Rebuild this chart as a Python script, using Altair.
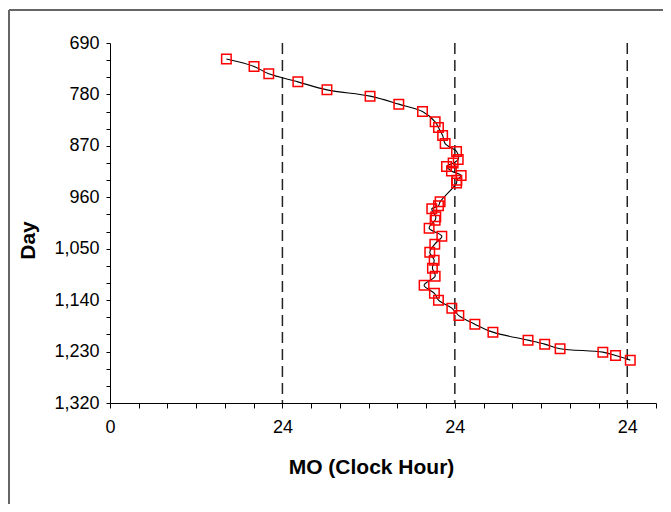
import altair as alt
import pandas as pd

# MO clock hour (unwrapped, hours) and study day
hours = [16.2, 20.05, 22.1, 26.15, 30.2, 36.2, 40.2, 43.5, 45.26, 45.72, 46.3, 46.65,
         48.24, 48.47, 47.76, 46.84, 47.53, 48.88, 48.28, 48.24,
         45.95, 45.72, 44.79, 45.35, 45.26, 44.42, 46.19, 45.21, 44.51, 45.12, 44.88,
         45.26, 43.72, 45.16, 45.72, 47.58, 48.56, 50.79, 53.3, 58.19, 60.51, 62.65,
         68.6, 70.37, 72.42]
days = [718, 731, 744, 758, 772, 783, 797, 810, 828, 838, 852, 866,
        880, 894, 900, 906, 914, 922, 930, 935,
        968, 975, 980, 994, 1000, 1014, 1028, 1042, 1056, 1070, 1084,
        1098, 1114, 1128, 1140, 1154, 1167, 1182, 1196, 1210, 1217, 1225,
        1231, 1237, 1245]
ref_hours = [24, 48, 72]
x_ticks = list(range(0, 77, 4))
y_ticks = list(range(690, 1321, 30))

df = pd.DataFrame({"hour": hours, "day": days})
ref = pd.DataFrame({"hour": ref_hours})
one = pd.DataFrame({"a": [0]})

LABEL_FONT = "Liberation Sans, Arial"
TITLE_FONT = "Liberation Sans, Arial"

xscale = alt.Scale(domain=[0, 76], nice=False, zero=False)
yscale = alt.Scale(domain=[690, 1320], nice=False, zero=False, reverse=True)

xaxis = alt.Axis(
    values=x_ticks, tickCount=200,
    labelExpr="datum.value == 0 ? '0' : (datum.value % 24 == 0 ? '24' : '')",
    labelOverlap=False, labelFlush=False,
    grid=False, domainColor="black", tickColor="black", tickSize=5,
    labelFont=LABEL_FONT, labelFontSize=18, labelColor="black", labelPadding=10,
    title="MO (Clock Hour)", titleFont=TITLE_FONT, titleFontSize=21,
    titleFontWeight="bold", titleColor="black",
    titleX=261, titleY=70, titleBaseline="alphabetic",
)
yaxis = alt.Axis(
    values=y_ticks, tickCount=200,
    labelExpr="(datum.value - 690) % 90 == 0 ? format(datum.value, ',d') : ''",
    labelOverlap=False, labelFlush=False,
    grid=False, domainColor="black", tickColor="black", tickSize=4,
    labelFont=LABEL_FONT, labelFontSize=18, labelColor="black", labelPadding=7,
    title="Day", titleFont=TITLE_FONT, titleFontSize=21,
    titleFontWeight="bold", titleColor="black",
    titleX=-82, titleY=197, titleBaseline="middle",
)

base = alt.Chart(df)

line = base.mark_line(color="black", strokeWidth=1.1, interpolate="catmull-rom").encode(
    x=alt.X("hour:Q", scale=xscale, axis=xaxis),
    y=alt.Y("day:Q", scale=yscale, axis=yaxis),
    order=alt.Order("day:Q"),
)
points = base.mark_point(shape="square", size=90, filled=False, color="#ff0000",
                         strokeWidth=1.5, opacity=1).encode(
    x=alt.X("hour:Q", scale=xscale),
    y=alt.Y("day:Q", scale=yscale),
)
refs = alt.Chart(ref).mark_rule(color="#222222", strokeWidth=1.5, strokeDash=[11, 6]).encode(
    x=alt.X("hour:Q", scale=xscale),
)
frame_top = alt.Chart(one).mark_rule(color="#666666", strokeWidth=2).encode(
    x=alt.value(-101), x2=alt.value(560), y=alt.value(-33)
)
frame_left = alt.Chart(one).mark_rule(color="#666666", strokeWidth=2).encode(
    x=alt.value(-101), y=alt.value(-33), y2=alt.value(470)
)

chart = alt.layer(frame_top, frame_left, refs, line, points).properties(
    width=546, height=360,
    autosize=alt.AutoSizeParams(type="none"),
    padding={"left": 102, "top": 35, "right": 7, "bottom": 101},
).configure_view(stroke=None)

chart.save("out.html", embed_options={"renderer": "svg", "actions": False})
